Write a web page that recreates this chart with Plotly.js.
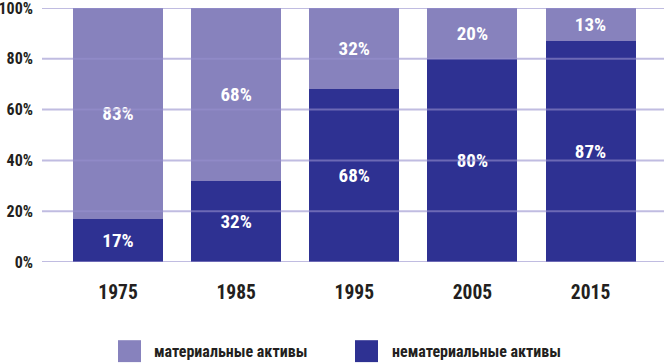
<!DOCTYPE html>
<html><head><meta charset="utf-8">
<script src="https://cdn.plot.ly/plotly-3.0.1.min.js"></script>
<style>html,body{margin:0;padding:0;background:#fff}#c{width:664px;height:363px}</style>
</head><body><div id="c"></div>
<script>
var years = ['1975','1985','1995','2005','2015'];
var intangible = [17, 32, 68, 80, 87];
var tangible = [83, 68, 32, 20, 13];
var seriesNames = ['материальные активы', 'нематериальные активы'];
var colors = ['#8782bd', '#2e3192'];
var yTicks = [0, 20, 40, 60, 80, 100];
var yTickText = ['0%', '20%', '40%', '60%', '80%', '100%'];

var FONT = 'Roboto Condensed, Open Sans Condensed, sans-serif';

function pct(a){ return a.map(function(v){ return v + '%'; }); }

var labelFont = {family:FONT, size:19, color:'#ffffff', weight:'bold'};
var traces = [
  {type:'bar', x:years, y:intangible, name:seriesNames[1], marker:{color:colors[1]},
   text:pct(intangible), textposition:'inside', insidetextanchor:'middle', textangle:0,
   constraintext:'none', textfont:labelFont, hoverinfo:'none'},
  {type:'bar', x:years, y:tangible, name:seriesNames[0], marker:{color:colors[0]},
   text:pct(tangible), textposition:'inside', insidetextanchor:'middle', textangle:0,
   constraintext:'none', textfont:labelFont, hoverinfo:'none'}
];

var shapes = yTicks.map(function(v){
  return {type:'line', xref:'paper', yref:'y', x0:0, x1:1, y0:v, y1:v,
          line:{color:'rgba(150,143,205,0.6)', width:2}, layer:'above'};
});
// legend swatches
var legendPos = [{x:118, tx:152}, {x:355, tx:390}];
var annotations = [];
seriesNames.forEach(function(n, i){
  shapes.push({type:'rect', xref:'paper', yref:'paper',
    x0:(legendPos[i].x-42)/622, x1:(legendPos[i].x+23-42)/622,
    y0:(262.5-363)/255, y1:(262.5-341)/255,
    fillcolor:colors[i], line:{width:0}});
  annotations.push({xref:'paper', yref:'paper', x:(legendPos[i].tx-42)/622, y:(262.5-352)/255,
    xanchor:'left', yanchor:'middle', showarrow:false, text:n,
    font:{family:FONT, size:16, color:'#231f20', weight:'bold'}});
});

var layout = {
  width:664, height:363,
  margin:{l:42, r:0, t:7.5, b:100.5},
  barmode:'stack', bargap:0.238,
  showlegend:false,
  paper_bgcolor:'#fff', plot_bgcolor:'#fff',
  xaxis:{type:'category', range:[-0.6435, 4.622], showgrid:false, zeroline:false, showline:false,
    ticks:'', tickfont:{family:FONT, size:19.5, color:'#231f20', weight:'bold'}, ticklabelstandoff:16},
  yaxis:{range:[0,100], tickvals:yTicks, ticktext:yTickText, showgrid:false, zeroline:false,
    showline:false, ticks:'', ticklabelstandoff:8, ticklabeloverflow:'allow',
    tickfont:{family:FONT, size:16, color:'#231f20', weight:'bold'}},
  shapes:shapes, annotations:annotations
};
Plotly.newPlot('c', traces, layout, {staticPlot:true});
</script></body></html>
